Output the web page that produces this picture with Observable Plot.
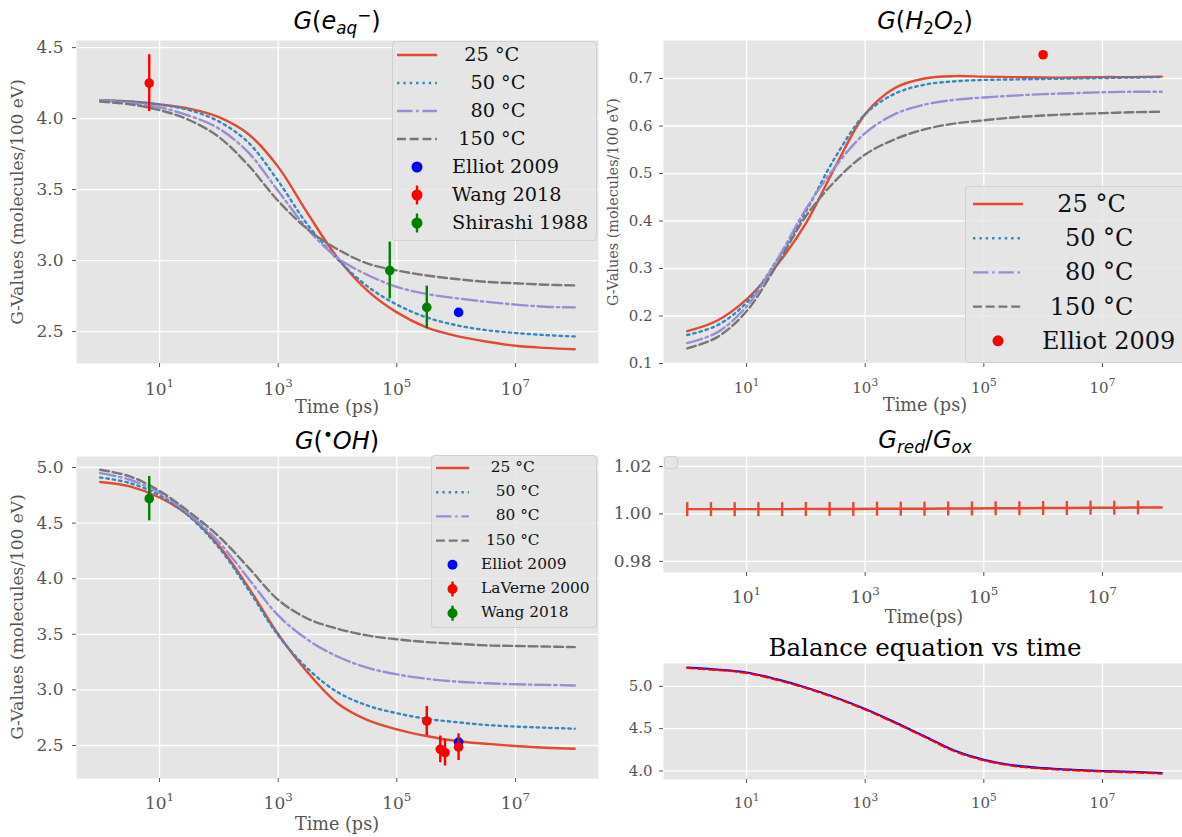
<!DOCTYPE html>
<html><head><meta charset="utf-8">
<script src="https://cdn.jsdelivr.net/npm/d3@7"></script>
<script src="https://cdn.jsdelivr.net/npm/@observablehq/plot@0.6"></script>
<style>
body{margin:0;background:#fff;}
#fig{position:relative;width:1182px;height:837px;overflow:hidden;background:#fff;font-family:"DejaVu Serif",serif;}
.ttl{position:absolute;white-space:nowrap;transform:translate(-50%,-50%);line-height:1;color:#000;}
.math{font-family:"DejaVu Sans",sans-serif;}
.math sub,.math sup{font-size:70%;line-height:0;position:relative;vertical-align:baseline;}
.math sub{top:0.3em;}
.math sup{top:-0.45em;}
.lab{position:absolute;white-space:nowrap;line-height:1;color:#555;font-family:"DejaVu Serif",serif;}
.leg{position:absolute;box-sizing:border-box;background:rgba(229,229,229,0.8);border:1px solid rgba(204,204,204,0.8);border-radius:4px;}
.legtxt{position:absolute;white-space:pre;line-height:1;color:#111;font-family:"DejaVu Serif",serif;transform:translateY(-50%);}
</style></head>
<body><div id="fig"></div>
<script>
// ---------------- data ----------------
const tGrid = [1, 3.162, 10, 31.62, 100, 316.2, 1000, 3162, 1e4, 31623, 1e5, 316228, 1e6, 3.162e6, 1e7, 3.162e7, 1e8];
const tempLabels = ["  25 °C", "   50 °C", "   80 °C", " 150 °C"];
const xTicks = [10, 1e3, 1e5, 1e7];

// G(e_aq-)
const eaq25  = [4.13, 4.12, 4.10, 4.07, 4.01, 3.89, 3.66, 3.33, 3.02, 2.79, 2.635, 2.53, 2.47, 2.43, 2.40, 2.385, 2.375];
const eaq50  = [4.13, 4.12, 4.10, 4.06, 3.98, 3.83, 3.56, 3.25, 3.01, 2.82, 2.69, 2.60, 2.545, 2.51, 2.49, 2.475, 2.465];
const eaq80  = [4.13, 4.11, 4.08, 4.02, 3.93, 3.76, 3.49, 3.22, 3.02, 2.90, 2.815, 2.765, 2.735, 2.71, 2.69, 2.675, 2.67];
const eaq150 = [4.12, 4.10, 4.06, 3.99, 3.87, 3.67, 3.42, 3.22, 3.08, 2.98, 2.93, 2.895, 2.87, 2.85, 2.84, 2.83, 2.825];
const eaqElliotT = [1.1e6], eaqElliotV = [2.635];
const eaqWangT = [6.7], eaqWangV = [4.25], eaqWangE = [0.2];
const eaqShiT = [7.6e4, 3.2e5], eaqShiV = [2.93, 2.67], eaqShiE = [0.2, 0.15];

// G(H2O2)
const h2o2_25  = [0.168, 0.19, 0.235, 0.305, 0.395, 0.515, 0.625, 0.68, 0.70, 0.705, 0.704, 0.703, 0.702, 0.702, 0.703, 0.703, 0.704];
const h2o2_50  = [0.16, 0.18, 0.228, 0.315, 0.42, 0.535, 0.625, 0.668, 0.687, 0.694, 0.697, 0.698, 0.699, 0.700, 0.701, 0.702, 0.703];
const h2o2_80  = [0.143, 0.165, 0.22, 0.315, 0.425, 0.515, 0.585, 0.625, 0.645, 0.655, 0.66, 0.664, 0.667, 0.669, 0.671, 0.672, 0.672];
const h2o2_150 = [0.132, 0.155, 0.21, 0.305, 0.41, 0.485, 0.54, 0.572, 0.593, 0.605, 0.612, 0.618, 0.622, 0.625, 0.627, 0.629, 0.63];
const h2o2ElliotT = [1e6], h2o2ElliotV = [0.75];

// G(OH)
const oh25  = [4.87, 4.83, 4.73, 4.565, 4.295, 3.92, 3.50, 3.155, 2.88, 2.73, 2.645, 2.585, 2.54, 2.515, 2.495, 2.48, 2.47];
const oh50  = [4.91, 4.86, 4.75, 4.56, 4.28, 3.90, 3.49, 3.19, 2.98, 2.86, 2.79, 2.74, 2.71, 2.685, 2.67, 2.66, 2.65];
const oh80  = [4.95, 4.89, 4.77, 4.58, 4.33, 4.00, 3.67, 3.45, 3.30, 3.20, 3.14, 3.10, 3.075, 3.06, 3.05, 3.045, 3.04];
const oh150 = [4.98, 4.92, 4.79, 4.60, 4.38, 4.10, 3.81, 3.64, 3.55, 3.49, 3.455, 3.43, 3.415, 3.40, 3.395, 3.39, 3.385];
const ohElliotT = [1.1e6], ohElliotV = [2.53];
const ohLaVerneT = [3.2e5, 5.4e5, 6.5e5, 1.1e6], ohLaVerneV = [2.72, 2.465, 2.435, 2.485], ohLaVerneE = [0.13, 0.12, 0.12, 0.12];
const ohWangT = [6.7], ohWangV = [4.72], ohWangE = [0.2];

// G_red / G_ox
const grT = [1, 2.512, 6.310, 15.85, 39.81, 100, 251.2, 631.0, 1585, 3981, 1e4, 25119, 63096, 158489, 398107, 1e6, 2.512e6, 6.310e6, 1.585e7, 3.981e7, 1e8];
const grV = [1.0020, 1.0020, 1.0020, 1.0020, 1.0020, 1.0021, 1.0021, 1.0021, 1.0022, 1.0022, 1.0022, 1.0023, 1.0023, 1.0024, 1.0024, 1.0025, 1.0025, 1.0026, 1.0026, 1.0027, 1.0027];

// Balance equation
const balBlue = [5.224, 5.20, 5.165, 5.086, 4.988, 4.87, 4.733, 4.576, 4.41, 4.243, 4.133, 4.067, 4.035, 4.015, 4.0, 3.99, 3.976];
const balRed  = [5.216, 5.192, 5.157, 5.078, 4.980, 4.862, 4.725, 4.568, 4.402, 4.235, 4.125, 4.059, 4.027, 4.007, 3.992, 3.982, 3.968];

// ---------------- styles ----------------
const tempColors = ["#E24A33", "#348ABD", "#988ED5", "#777777"];
const tempDash = [null, "2.4,3.96", "15.4,3.8,2.4,3.8", "8.9,3.84"];

const fig = document.getElementById("fig");
const mk = (ts, vs) => ts.map((t, i) => ({t, v: vs[i]}));

function tempLines(arrs) {
  return arrs.map((a, i) => Plot.line(mk(tGrid, a), {
    x: "t", y: "v", stroke: tempColors[i], strokeWidth: 2.4,
    strokeDasharray: tempDash[i], curve: "catmull-rom"
  }));
}
function errPts(ts, vs, es, color) {
  const d = ts.map((t, i) => ({t, v: vs[i], e: es[i]}));
  return [
    Plot.ruleX(d, {x: "t", y1: r => r.v - r.e, y2: r => r.v + r.e, stroke: color, strokeWidth: 2.4}),
    Plot.dot(d, {x: "t", y: "v", r: 4.8, fill: color, stroke: "none"})
  ];
}
function pts(ts, vs, color) {
  return Plot.dot(mk(ts, vs), {x: "t", y: "v", r: 4.8, fill: color, stroke: "none"});
}

function panel(o) {
  const fs = o.fs, xf = o.xfs;
  const marks = [
    Plot.frame({fill: "#E5E5E5", stroke: "none"}),
    Plot.gridX(xTicks, {stroke: "#fff", strokeOpacity: 1, strokeWidth: 1.3}),
    Plot.gridY(o.yticks, {stroke: "#fff", strokeOpacity: 1, strokeWidth: 1.3}),
    Plot.axisX(xTicks, {tickSize: 4, tickFormat: () => "", stroke: "#555", label: null}),
    Plot.text(xTicks, {x: d => d, frameAnchor: "bottom", text: () => "10", textAnchor: "end", lineAnchor: "bottom",
      dx: 0.415 * xf, dy: o.xdy, fontSize: xf, fill: "#555"}),
    Plot.text(xTicks, {x: d => d, frameAnchor: "bottom", text: d => String(Math.round(Math.log10(d))), textAnchor: "start", lineAnchor: "bottom",
      dx: 0.415 * xf, dy: o.xdy - 0.42 * xf, fontSize: 0.7 * xf, fill: "#555"}),
    Plot.axisY(o.yticks, {tickSize: 4, tickPadding: o.ypad, tickFormat: d3.format(o.yfmt), fontSize: fs, stroke: "#555", fill: "#555", label: null}),
    ...o.marks
  ];
  const svg = Plot.plot({
    width: o.w, height: o.h,
    marginTop: o.mt, marginRight: o.mr, marginBottom: o.mb, marginLeft: o.ml,
    x: {type: "log", domain: o.xd, label: null},
    y: {domain: o.yd, label: null},
    style: {background: "transparent", color: "#555", fontFamily: "'DejaVu Serif', serif", fontSize: fs + "px", overflow: "visible"},
    marks
  });
  svg.style.position = "absolute";
  svg.style.left = o.left + "px";
  svg.style.top = o.top + "px";
  fig.appendChild(svg);
}

function title(html, cx, cy, fs, cls) {
  const d = document.createElement("div");
  d.className = "ttl " + (cls || "");
  d.style.left = cx + "px"; d.style.top = cy + "px"; d.style.fontSize = fs + "px";
  d.innerHTML = html;
  fig.appendChild(d);
}
function label(text, cx, cy, fs, rotate) {
  const d = document.createElement("div");
  d.className = "lab";
  d.style.left = cx + "px"; d.style.top = cy + "px"; d.style.fontSize = fs + "px";
  d.style.transform = "translate(-50%,-50%)" + (rotate ? " rotate(-90deg)" : "");
  d.textContent = text;
  fig.appendChild(d);
}
function legend(o) {
  const box = document.createElement("div");
  box.className = "leg";
  Object.assign(box.style, {left: o.x + "px", top: o.y + "px", width: o.w + "px", height: o.h + "px"});
  fig.appendChild(box);
  const svg = d3.create("svg").attr("width", o.w).attr("height", o.h)
    .style("position", "absolute").style("left", "-1px").style("top", "-1px").style("overflow", "visible");
  o.rows.forEach((r, i) => {
    const cy = o.y0 + i * o.gap - o.y;
    const x0 = o.hx - o.x, x1 = o.hx + o.hl - o.x, xc = (x0 + x1) / 2;
    if (r.kind === "line") {
      svg.append("line").attr("x1", x0).attr("x2", x1).attr("y1", cy).attr("y2", cy)
        .attr("stroke", r.color).attr("stroke-width", 2.4).attr("stroke-dasharray", r.dash || null);
    } else {
      if (r.kind === "err") svg.append("line").attr("x1", xc).attr("x2", xc).attr("y1", cy - o.eh).attr("y2", cy + o.eh)
        .attr("stroke", r.color).attr("stroke-width", 2.4);
      svg.append("circle").attr("cx", xc).attr("cy", cy).attr("r", o.mr).attr("fill", r.color);
    }
    const t = document.createElement("div");
    t.className = "legtxt";
    t.style.left = (o.tx - o.x - 1) + "px"; t.style.top = (cy - 1) + "px"; t.style.fontSize = o.fs + "px";
    t.textContent = r.label;
    box.appendChild(t);
  });
  box.appendChild(svg.node());
}
const tempRows = tempLabels.map((l, i) => ({kind: "line", label: l, color: tempColors[i], dash: tempDash[i]}));

// ---------------- panels ----------------
const XL = [10 ** -0.4, 10 ** 8.4];
const XR = [10 ** -0.4, 10 ** 8.35];

// top-left
panel({left: 0, top: 0, w: 600, h: 415, mt: 40, mr: 2, mb: 52, ml: 76, xd: XL, yd: [2.275, 4.55],
  yticks: [2.5, 3.0, 3.5, 4.0, 4.5], yfmt: ".1f", fs: 17, xfs: 17, ypad: 9, xdy: 31,
  marks: [...tempLines([eaq25, eaq50, eaq80, eaq150]),
    pts(eaqElliotT, eaqElliotV, "blue"),
    ...errPts(eaqWangT, eaqWangV, eaqWangE, "red"),
    ...errPts(eaqShiT, eaqShiV, eaqShiE, "green")]});

// top-right
panel({left: 590, top: 0, w: 592, h: 415, mt: 40, mr: 0, mb: 52, ml: 73, xd: XR, yd: [0.1, 0.78],
  yticks: [0.1, 0.2, 0.3, 0.4, 0.5, 0.6, 0.7], yfmt: ".1f", fs: 15, xfs: 15, ypad: 7, xdy: 29,
  marks: [...tempLines([h2o2_25, h2o2_50, h2o2_80, h2o2_150]),
    pts(h2o2ElliotT, h2o2ElliotV, "red")]});

// bottom-left
panel({left: 0, top: 420, w: 600, h: 417, mt: 36, mr: 2, mb: 59, ml: 76, xd: XL, yd: [2.203, 5.099],
  yticks: [2.5, 3.0, 3.5, 4.0, 4.5, 5.0], yfmt: ".1f", fs: 17, xfs: 17, ypad: 9, xdy: 30,
  marks: [...tempLines([oh25, oh50, oh80, oh150]),
    pts(ohElliotT, ohElliotV, "blue"),
    ...errPts(ohLaVerneT, ohLaVerneV, ohLaVerneE, "red"),
    ...errPts(ohWangT, ohWangV, ohWangE, "green")]});

// G_red/G_ox
const vbar = {draw(ctx, size) { const h = Math.sqrt(size / Math.PI); ctx.moveTo(0, -h); ctx.lineTo(0, h); }};
panel({left: 590, top: 420, w: 592, h: 210, mt: 36, mr: 0, mb: 58, ml: 73, xd: XR, yd: [0.9753, 1.0242],
  yticks: [0.98, 1.00, 1.02], yfmt: ".2f", fs: 17, xfs: 17, ypad: 8, xdy: 30,
  marks: [
    Plot.line(mk(grT, grV), {x: "t", y: "v", stroke: "#E24A33", strokeWidth: 2.4}),
    Plot.dot(mk(grT, grV).slice(0, 20), {x: "t", y: "v", symbol: vbar, r: 7, stroke: "#E24A33", strokeWidth: 2.4, fill: "none"})
  ]});

// Balance
panel({left: 590, top: 630, w: 592, h: 207, mt: 33, mr: 0, mb: 58, ml: 73, xd: XR, yd: [3.899, 5.27],
  yticks: [4.0, 4.5, 5.0], yfmt: ".1f", fs: 15, xfs: 15, ypad: 7, xdy: 28,
  marks: [
    Plot.line(mk(tGrid, balBlue), {x: "t", y: "v", stroke: "blue", strokeWidth: 2, curve: "catmull-rom"}),
    Plot.line(mk(tGrid, balRed), {x: "t", y: "v", stroke: "red", strokeWidth: 2, strokeDasharray: "7.4,3.2", curve: "catmull-rom"})
  ]});

// ---------------- titles & labels ----------------
title('<i>G</i>(<i>e</i><sub><i>aq</i></sub><sup>−</sup>)', 337, 21, 24, "math");
title('<i>G</i>(<i>H</i><sub>2</sub><i>O</i><sub>2</sub>)', 925, 21, 24, "math");
title('<i>G</i>(<sup>•</sup><i>OH</i>)', 337, 441, 24, "math");
title('<i>G</i><sub><i>red</i></sub>/<i>G</i><sub><i>ox</i></sub>', 925, 440, 24, "math");
title('Balance equation vs time', 925, 648, 24.5, "");

label("G-Values (molecules/100 eV)", 17, 202, 17, true);
label("G-Values (molecules/100 eV)", 613, 202, 14.4, true);
label("G-Values (molecules/100 eV)", 17, 617, 17, true);
label("Time (ps)", 337, 408, 17.6);
label("Time (ps)", 925, 406, 17.6);
label("Time (ps)", 337, 825, 17.6);
label("Time(ps)", 924, 618, 17.6);

// ---------------- legends ----------------
legend({x: 392, y: 41, w: 205, h: 200, fs: 19.3, hx: 397, hl: 40, tx: 452, y0: 55, gap: 28, mr: 5.5, eh: 9.5,
  rows: [...tempRows,
    {kind: "dot", label: "Elliot 2009", color: "blue"},
    {kind: "err", label: "Wang 2018", color: "red"},
    {kind: "err", label: "Shirashi 1988", color: "green"}]});
legend({x: 965, y: 186, w: 230, h: 177, fs: 24, hx: 973, hl: 50, tx: 1042, y0: 204, gap: 34.2, mr: 5.5, eh: 10,
  rows: [...tempRows, {kind: "dot", label: "Elliot 2009", color: "red"}]});
legend({x: 431, y: 455, w: 166, h: 173, fs: 15.4, hx: 436, hl: 33, tx: 481, y0: 468, gap: 24.2, mr: 5, eh: 7.5,
  rows: [...tempRows,
    {kind: "dot", label: "Elliot 2009", color: "blue"},
    {kind: "err", label: "LaVerne 2000", color: "red"},
    {kind: "err", label: "Wang 2018", color: "green"}]});
// empty legend box in G_red/G_ox panel
legend({x: 664, y: 456, w: 14, h: 13, fs: 10, hx: 0, hl: 0, tx: 0, y0: 0, gap: 0, mr: 0, eh: 0, rows: []});
</script>
</body></html>
